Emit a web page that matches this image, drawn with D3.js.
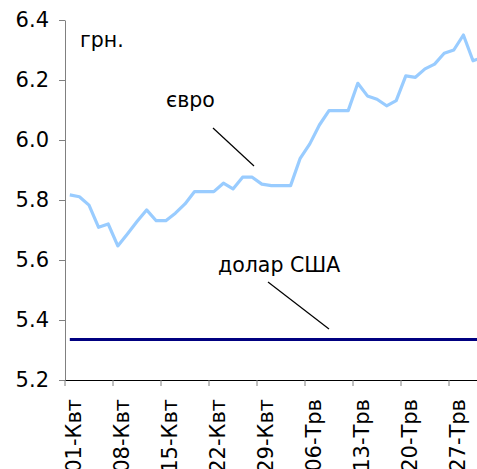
<!DOCTYPE html>
<html>
<head>
<meta charset="utf-8">
<script src="https://cdn.jsdelivr.net/npm/d3@7"></script>
<style>
  body { margin: 0; background: #fff; }
  svg { display: block; }
  text { font-family: "DejaVu Sans", Verdana, sans-serif; fill: #000; }
</style>
</head>
<body>
<script>
// Business days, 01 Apr - 30 May
const categories = [
  "01-Квт", "02-Квт", "03-Квт", "04-Квт",
  "07-Квт", "08-Квт", "09-Квт", "10-Квт", "11-Квт",
  "14-Квт", "15-Квт", "16-Квт", "17-Квт", "18-Квт",
  "21-Квт", "22-Квт", "23-Квт", "24-Квт", "25-Квт",
  "28-Квт", "29-Квт", "30-Квт", "01-Трв", "02-Трв",
  "05-Трв", "06-Трв", "07-Трв", "08-Трв", "09-Трв",
  "12-Трв", "13-Трв", "14-Трв", "15-Трв", "16-Трв",
  "19-Трв", "20-Трв", "21-Трв", "22-Трв", "23-Трв",
  "26-Трв", "27-Трв", "28-Трв", "29-Трв", "30-Трв"
];

// EUR rate, грн.
const euro = [
  5.817, 5.811, 5.783, 5.709, 5.720, 5.647, 5.687, 5.728, 5.767, 5.731,
  5.731, 5.756, 5.787, 5.828, 5.828, 5.828, 5.856, 5.837, 5.876, 5.876,
  5.853, 5.848, 5.848, 5.848, 5.939, 5.987, 6.050, 6.098, 6.098, 6.098,
  6.189, 6.147, 6.136, 6.114, 6.131, 6.214, 6.209, 6.237, 6.253, 6.289,
  6.300, 6.350, 6.264, 6.275
];

// USD rate, грн.
const dollar = [
  5.335, 5.335, 5.335, 5.335, 5.335, 5.335, 5.335, 5.335, 5.335, 5.335,
  5.335, 5.335, 5.335, 5.335, 5.335, 5.335, 5.335, 5.335, 5.335, 5.335,
  5.335, 5.335, 5.335, 5.335, 5.335, 5.335, 5.335, 5.335, 5.335, 5.335,
  5.335, 5.335, 5.335, 5.335, 5.335, 5.335, 5.335, 5.335, 5.335, 5.335,
  5.335, 5.335, 5.335, 5.335
];

const yTicks = [5.2, 5.4, 5.6, 5.8, 6.0, 6.2, 6.4];
const xTickLabels = ["01-Квт", "08-Квт", "15-Квт", "22-Квт", "29-Квт",
                     "06-Трв", "13-Трв", "20-Трв", "27-Трв"];

const width = 477, height = 469;
const plotLeft = 65, plotTop = 20, plotBottom = 380;
const step = 9.6;
const fontSize = 21;

const svg = d3.select("body")
  .append("svg")
  .attr("width", width)
  .attr("height", height);

const x = d3.scaleBand()
  .domain(categories)
  .range([plotLeft, plotLeft + categories.length * step]);

const y = d3.scaleLinear()
  .domain([5.2, 6.4])
  .range([plotBottom, plotTop]);

const bw = x.bandwidth();

// Y axis
const yAxis = svg.append("g")
  .attr("transform", `translate(${plotLeft},0)`)
  .call(d3.axisLeft(y).tickValues(yTicks).tickFormat(d3.format(".1f"))
    .tickSize(6).tickSizeOuter(0).tickPadding(10));
yAxis.select(".domain").attr("stroke", "#808080");
yAxis.selectAll(".tick line").attr("stroke", "#808080");
yAxis.selectAll(".tick text")
  .attr("font-size", fontSize)
  .attr("font-family", "DejaVu Sans, Verdana, sans-serif")
  .attr("fill", "#000");

// X axis: ticks on category boundaries, labels on category centres
const xAxis = svg.append("g")
  .attr("transform", `translate(0,${plotBottom})`)
  .call(d3.axisBottom(x).tickValues(xTickLabels).tickSize(6).tickSizeOuter(0));
xAxis.select(".domain").attr("stroke", "#000");
xAxis.selectAll(".tick line")
  .attr("stroke", "#808080")
  .attr("x1", -bw / 2)
  .attr("x2", -bw / 2);
xAxis.selectAll(".tick text")
  .attr("font-size", fontSize)
  .attr("font-family", "DejaVu Sans, Verdana, sans-serif")
  .attr("fill", "#000")
  .attr("text-anchor", "end")
  .attr("transform", "translate(1,19) rotate(-90)")
  .attr("x", 0)
  .attr("y", 0)
  .attr("dy", "0.48em");

// Lines
const line = d3.line()
  .x((d, i) => x(categories[i]) + bw / 2)
  .y(d => y(d));

svg.append("path")
  .datum(euro)
  .attr("fill", "none")
  .attr("stroke", "#99ccff")
  .attr("stroke-width", 3.2)
  .attr("stroke-linejoin", "round")
  .attr("d", line);

svg.append("path")
  .datum(dollar)
  .attr("fill", "none")
  .attr("stroke", "#000080")
  .attr("stroke-width", 3)
  .attr("d", line);

// Annotations
svg.append("text").attr("x", 80).attr("y", 47).attr("font-size", 20.5).text("грн.");
svg.append("text").attr("x", 166).attr("y", 107).attr("font-size", 20.5).text("євро");
svg.append("text").attr("x", 218).attr("y", 272).attr("font-size", 20.5).text("долар США");

svg.append("line")
  .attr("x1", 213).attr("y1", 128).attr("x2", 254).attr("y2", 166)
  .attr("stroke", "#000").attr("stroke-width", 1.2);
svg.append("line")
  .attr("x1", 268).attr("y1", 282).attr("x2", 329).attr("y2", 329)
  .attr("stroke", "#000").attr("stroke-width", 1.2);
</script>
</body>
</html>
